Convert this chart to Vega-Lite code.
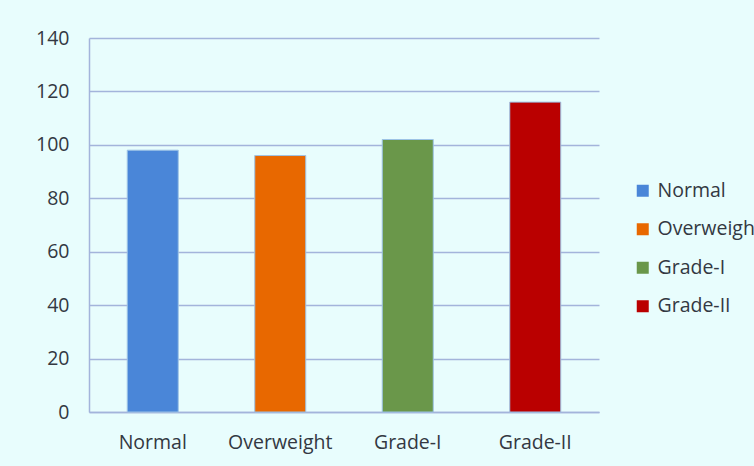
{
  "$schema": "https://vega.github.io/schema/vega-lite/v6.json",
  "width": 510,
  "height": 374,
  "autosize": {"type": "none"},
  "padding": {"left": 89, "top": 38, "right": 155, "bottom": 54},
  "background": "#E8FDFD",
  "config": {
    "view": {"stroke": null},
    "font": "Open Sans"
  },
  "data": {
    "values": [
      {"group": "Normal", "value": 98},
      {"group": "Overweight", "value": 96},
      {"group": "Grade-I", "value": 102},
      {"group": "Grade-II", "value": 116}
    ]
  },
  "mark": {"type": "bar", "stroke": "#9DC3E6", "strokeWidth": 1},
  "encoding": {
    "x": {
      "field": "group",
      "type": "nominal",
      "sort": null,
      "scale": {"paddingInner": 0.6, "paddingOuter": 0.3},
      "axis": {
        "title": null,
        "labelAngle": 0,
        "labelFont": "Open Sans",
        "labelFontSize": 19.5,
        "labelColor": "#333842",
        "labelPadding": 21,
        "ticks": false,
        "domainColor": "#A3B4DB",
        "domainWidth": 1.5
      }
    },
    "y": {
      "field": "value",
      "type": "quantitative",
      "scale": {"domain": [0, 140]},
      "axis": {
        "title": null,
        "values": [0, 20, 40, 60, 80, 100, 120, 140],
        "labelFont": "Open Sans",
        "labelFontSize": 19.5,
        "labelColor": "#333842",
        "labelPadding": 20,
        "ticks": false,
        "grid": true,
        "gridColor": "#A3B4DB",
        "gridWidth": 1.5,
        "domainColor": "#A3B4DB",
        "domainWidth": 1.5
      }
    },
    "color": {
      "field": "group",
      "type": "nominal",
      "sort": null,
      "scale": {
        "domain": ["Normal", "Overweight", "Grade-I", "Grade-II"],
        "range": ["#4A86D8", "#E86800", "#6A974A", "#BA0000"]
      },
      "legend": {
        "title": null,
        "orient": "none",
        "legendX": 544,
        "legendY": 143,
        "padding": 0,
        "symbolType": "square",
        "symbolSize": 144,
        "symbolStrokeWidth": 0,
        "labelFont": "Open Sans",
        "labelFontSize": 19.5,
        "labelColor": "#333842",
        "labelOffset": 5,
        "rowPadding": 17.5,
        "labelLimit": 400
      }
    }
  }
}
